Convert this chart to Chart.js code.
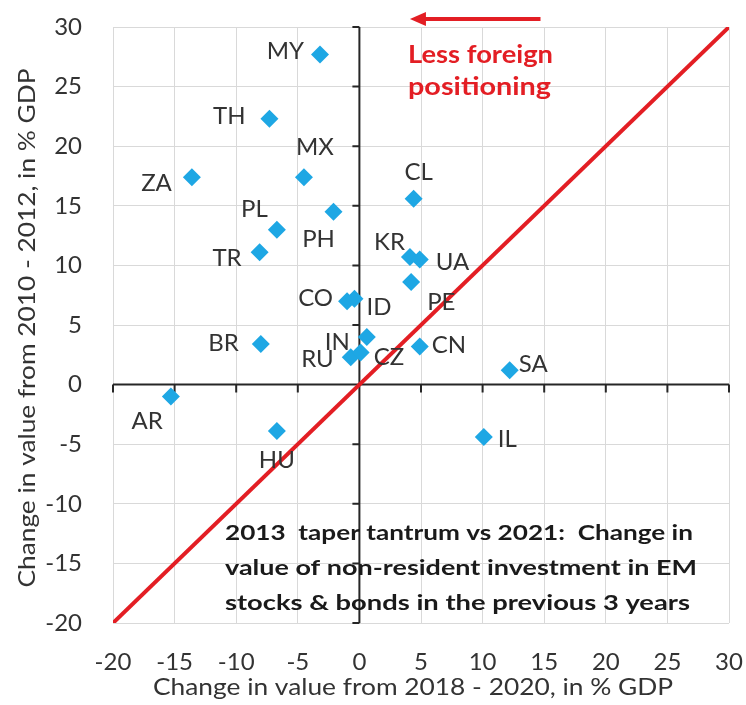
<!DOCTYPE html>
<html>
<head>
<meta charset="utf-8">
<script src="https://cdn.jsdelivr.net/npm/chart.js@4"></script>
<style>
  html, body { margin: 0; padding: 0; background: #fff; }
  #wrap { width: 746px; height: 705px; position: relative; }
</style>
</head>
<body>
<div id="wrap"><canvas id="chart"></canvas></div>
<script>
// Countries and their change in non-resident holdings (% GDP)
const countries = ['MY', 'TH', 'ZA', 'MX', 'PL', 'PH', 'TR', 'CO', 'ID', 'BR', 'IN',
                   'RU', 'CZ', 'AR', 'HU', 'CL', 'KR', 'UA', 'PE', 'CN', 'SA', 'IL'];
const change2018to2020 = [-3.2, -7.3, -13.6, -4.5, -6.7, -2.1, -8.1, -1.0, -0.4, -8.0, 0.6,
                          -0.7, 0.1, -15.3, -6.7, 4.4, 4.1, 4.9, 4.2, 4.9, 12.2, 10.1];
const change2010to2012 = [27.7, 22.3, 17.4, 17.4, 13.0, 14.5, 11.1, 7.0, 7.2, 3.4, 4.0,
                          2.3, 2.7, -1.0, -3.9, 15.6, 10.7, 10.5, 8.6, 3.2, 1.2, -4.4];
const axisMin = -20;
const axisMax = 30;
const axisStep = 5;
const parityLine = [-20, 30];   // 45 degree line, x = y

const xTitle = 'Change in value from 2018 - 2020, in % GDP';
const yTitle = 'Change in value from 2010 - 2012, in % GDP';
const arrowText = ['Less foreign', 'positioning'];
const noteText = ['2013  taper tantrum vs 2021:  Change in',
                  'value of non-resident investment in EM',
                  'stocks & bonds in the previous 3 years'];

const FONT = 'Lato, "Open Sans", sans-serif';
const TEXT = '#333333';
const RED = '#e31e24';
const BLUE = '#1ea7e4';

// where each country label sits relative to its marker (align, dx, dy in px)
const labelPlace = {
  MY: ['right', -16, -3], TH: ['right', -24, -3], ZA: ['right', -20, 6],
  MX: ['center', 11, -30], PL: ['right', -9, -20], PH: ['center', -15, 28],
  TR: ['right', -18, 6], CO: ['right', -14, -3], ID: ['left', 12, 8],
  BR: ['right', -22, -1], IN: ['right', -17, 5], RU: ['right', -17, 2],
  CZ: ['left', 13, 5], AR: ['right', -8, 25], HU: ['center', 0, 29],
  CL: ['center', 5, -26], KR: ['right', -5, -15], UA: ['left', 16, 3],
  PE: ['left', 16, 20], CN: ['left', 12, -1], SA: ['left', 9, -6],
  IL: ['left', 14, 2]
};

const points = countries.map((c, i) => ({ x: change2018to2020[i], y: change2010to2012[i] }));

// text squeezed/stretched horizontally to a given width (the source picture is stretched)
function stretchText(ctx, text, x, y, width, align) {
  const w = ctx.measureText(text).width;
  const sx = width / w;
  ctx.save();
  ctx.translate(x, y);
  ctx.scale(sx, 1);
  ctx.textAlign = 'left';
  let start = 0;
  if (align === 'center') start = -w / 2;
  ctx.fillText(text, start, 0);
  ctx.restore();
}

const overlayPlugin = {
  id: 'overlay',
  beforeDatasetsDraw(chart) {
    // axis lines through zero with outside tick marks
    const ctx = chart.ctx;
    const xs = chart.scales.x, ys = chart.scales.y;
    const x0 = xs.getPixelForValue(0), y0 = ys.getPixelForValue(0);
    ctx.save();
    ctx.strokeStyle = '#262626';
    ctx.lineWidth = 2;
    ctx.beginPath();
    ctx.moveTo(xs.left, y0); ctx.lineTo(xs.right, y0);
    ctx.moveTo(x0, ys.top); ctx.lineTo(x0, ys.bottom);
    for (let v = axisMin; v <= axisMax; v += axisStep) {
      const px = xs.getPixelForValue(v);
      ctx.moveTo(px, y0); ctx.lineTo(px, y0 + 8);
      const py = ys.getPixelForValue(v);
      ctx.moveTo(x0, py); ctx.lineTo(x0 - 7, py);
    }
    ctx.stroke();
    ctx.restore();
  },
  afterDatasetsDraw(chart) {
    const ctx = chart.ctx;
    const meta = chart.getDatasetMeta(0);
    ctx.save();
    ctx.font = '24px ' + FONT;
    ctx.fillStyle = TEXT;
    ctx.textBaseline = 'middle';
    meta.data.forEach((pt, i) => {
      const p = labelPlace[countries[i]];
      ctx.textAlign = p[0];
      ctx.fillText(countries[i], pt.x + p[1], pt.y + p[2]);
    });

    // axis titles
    const xs = chart.scales.x, ys = chart.scales.y;
    ctx.textBaseline = 'alphabetic';
    ctx.font = '23px ' + FONT;
    stretchText(ctx, xTitle, (xs.left + xs.right) / 2 - 8, 695, 520, 'center');
    ctx.save();
    ctx.translate(35, (ys.top + ys.bottom) / 2 + 3);
    ctx.rotate(-Math.PI / 2);
    stretchText(ctx, yTitle, 0, 0, 519, 'center');
    ctx.restore();

    // arrow + red note at the top
    const ax1 = xs.getPixelForValue(14.7), ax2 = xs.getPixelForValue(4.1);
    ctx.strokeStyle = RED;
    ctx.fillStyle = RED;
    ctx.lineWidth = 4;
    ctx.beginPath();
    ctx.moveTo(ax1, 19); ctx.lineTo(ax2 + 12, 19);
    ctx.stroke();
    ctx.beginPath();
    ctx.moveTo(ax2, 19); ctx.lineTo(ax2 + 16, 12); ctx.lineTo(ax2 + 16, 26);
    ctx.closePath();
    ctx.fill();
    ctx.font = 'bold 24px ' + FONT;
    stretchText(ctx, arrowText[0], 408, 63, 145, 'left');
    stretchText(ctx, arrowText[1], 408, 95, 143, 'left');

    // note in the lower right
    ctx.fillStyle = '#1a1a1a';
    ctx.font = 'bold 21px ' + FONT;
    const noteW = [468, 472, 465];
    noteText.forEach((t, i) => stretchText(ctx, t, 225, 540 + i * 35, noteW[i], 'left'));
    ctx.restore();
  }
};

function pinScale(scale) {
  scale.paddingLeft = 0; scale.paddingRight = 0;
  scale.paddingTop = 0; scale.paddingBottom = 0;
}

new Chart(document.getElementById('chart'), {
  type: 'scatter',
  data: {
    datasets: [
      {
        label: 'EM',
        data: points,
        pointStyle: 'rectRot',
        pointRadius: 9,
        pointHoverRadius: 9,
        backgroundColor: BLUE,
        borderColor: BLUE,
        borderWidth: 0
      },
      {
        label: 'x = y',
        data: parityLine.map(v => ({ x: v, y: v })),
        showLine: true,
        pointRadius: 0,
        borderColor: RED,
        borderWidth: 4,
        order: -1
      }
    ]
  },
  options: {
    responsive: true,
    maintainAspectRatio: false,
    animation: false,
    layout: { padding: { left: 0, top: 27, right: 17, bottom: 0 } },
    plugins: {
      legend: { display: false },
      tooltip: { enabled: false }
    },
    scales: {
      x: {
        min: axisMin, max: axisMax,
        ticks: { stepSize: axisStep, padding: 25, color: TEXT, font: { family: FONT, size: 24 } },
        grid: { color: '#d9d9d9', lineWidth: 1, drawTicks: false },
        border: { display: false },
        afterFit(scale) { scale.height = 82; pinScale(scale); }
      },
      y: {
        min: axisMin, max: axisMax,
        ticks: { stepSize: axisStep, padding: 31, color: TEXT, font: { family: FONT, size: 24 } },
        grid: { color: '#d9d9d9', lineWidth: 1, drawTicks: false },
        border: { display: false },
        afterFit(scale) { scale.width = 113; pinScale(scale); }
      }
    }
  },
  plugins: [overlayPlugin]
});
</script>
</body>
</html>
